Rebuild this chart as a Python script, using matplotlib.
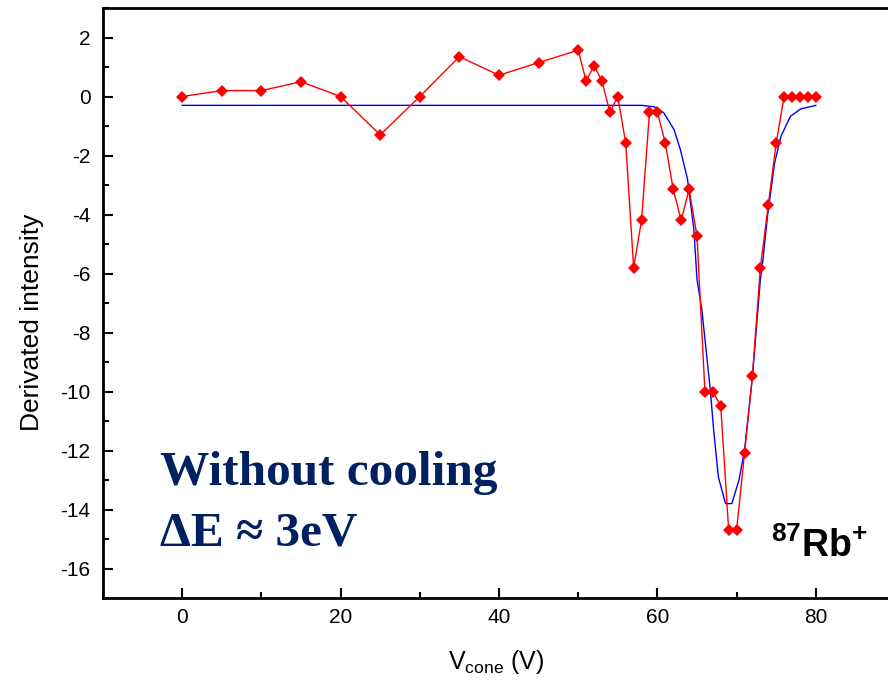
import numpy as np
import matplotlib
matplotlib.use('Agg')
import matplotlib.pyplot as plt
from matplotlib.ticker import MultipleLocator

plt.rcParams['font.family'] = ['Liberation Sans', 'DejaVu Sans']
plt.rcParams['mathtext.fontset'] = 'custom'
plt.rcParams['mathtext.rm'] = 'Liberation Sans'
plt.rcParams['mathtext.bf'] = 'Liberation Sans:bold'
plt.rcParams['axes.unicode_minus'] = False

v_cone = [0, 5, 10, 15, 20, 25, 30, 35, 40, 45, 50, 51, 52, 53, 54, 55, 56, 57,
          58, 59, 60, 61, 62, 63, 64, 65, 66, 67, 68, 69, 70, 71, 72, 73, 74,
          75, 76, 77, 78, 79, 80]
intensity = [0, 0.2, 0.2, 0.5, 0, -1.3, 0, 1.35, 0.72, 1.15, 1.57, 0.52, 1.05,
             0.52, -0.53, 0, -1.58, -5.8, -4.2, -0.53, -0.53, -1.58, -3.15,
             -4.2, -3.15, -4.73, -10.0, -10.0, -10.5, -14.7, -14.7, -12.1,
             -9.46, -5.8, -3.68, -1.58, 0, 0, 0, 0, 0]

# fitted curve (blue)
fit_x = [0, 58, 59.6, 60.8, 62.1, 62.9, 63.8, 64.6, 65.0, 65.6, 66.7, 67.1,
         67.7, 68.6, 69.4, 70.3, 71.0, 72.0, 73.0, 73.3, 73.9, 74.8, 75.6,
         76.8, 78.1, 80]
fit_y = [-0.3, -0.3, -0.35, -0.55, -1.12, -1.8, -2.8, -4.5, -6.2, -7.2, -10.0,
         -11.3, -12.9, -13.8, -13.8, -13.0, -12.0, -9.5, -6.2, -5.6, -4.06,
         -2.25, -1.35, -0.67, -0.42, -0.3]

fig = plt.figure(figsize=(8.88, 6.86), dpi=100)
# axes run past the right edge, the original is cropped there
ax = fig.add_axes([103 / 888, 88 / 686, 792 / 888, 590 / 686])

ax.plot(fit_x, fit_y, color='blue', lw=1.0, zorder=2)
ax.plot(v_cone, intensity, color='red', lw=1.0, marker='D', markersize=6.5,
        markeredgewidth=0, zorder=3)

ax.set_xlim(-10, 90)
ax.set_ylim(-17, 3)
ax.xaxis.set_major_locator(MultipleLocator(20))
ax.xaxis.set_minor_locator(MultipleLocator(10))
ax.yaxis.set_major_locator(MultipleLocator(2))
ax.yaxis.set_minor_locator(MultipleLocator(1))

for s in ['left', 'bottom', 'top']:
    ax.spines[s].set_linewidth(2)
ax.spines['right'].set_visible(False)

ax.tick_params(which='both', direction='in', width=1.5, top=False, right=False,
               labelsize=15)
ax.tick_params(which='major', length=7)
ax.tick_params(which='minor', length=4)
ax.tick_params(axis='y', pad=9)
ax.tick_params(axis='x', pad=7)

ax.set_ylabel('Derivated intensity', fontsize=19)
ax.yaxis.set_label_coords(-0.075, 0.468)
ax.set_xlabel(r'V$_{\mathrm{cone}}$ (V)', fontsize=18)
ax.xaxis.set_label_coords(0.497, -0.085)

navy = '#002060'
fig.text(160 / 888, 1 - 485 / 686, 'Without cooling', fontsize=35.5,
         fontweight='bold', family='Liberation Serif', color=navy,
         va='baseline')
fig.text(160 / 888, 1 - 545 / 686, 'ΔE ≈ 3eV', fontsize=35.5,
         fontweight='bold', family=['Liberation Serif', 'DejaVu Serif'],
         color=navy, va='baseline')
fig.text(771 / 888, 1 - 557 / 686, r'$\mathbf{^{87}Rb^{+}}$', fontsize=27,
         color='black', va='baseline')

fig.savefig('out.png', dpi=100)
